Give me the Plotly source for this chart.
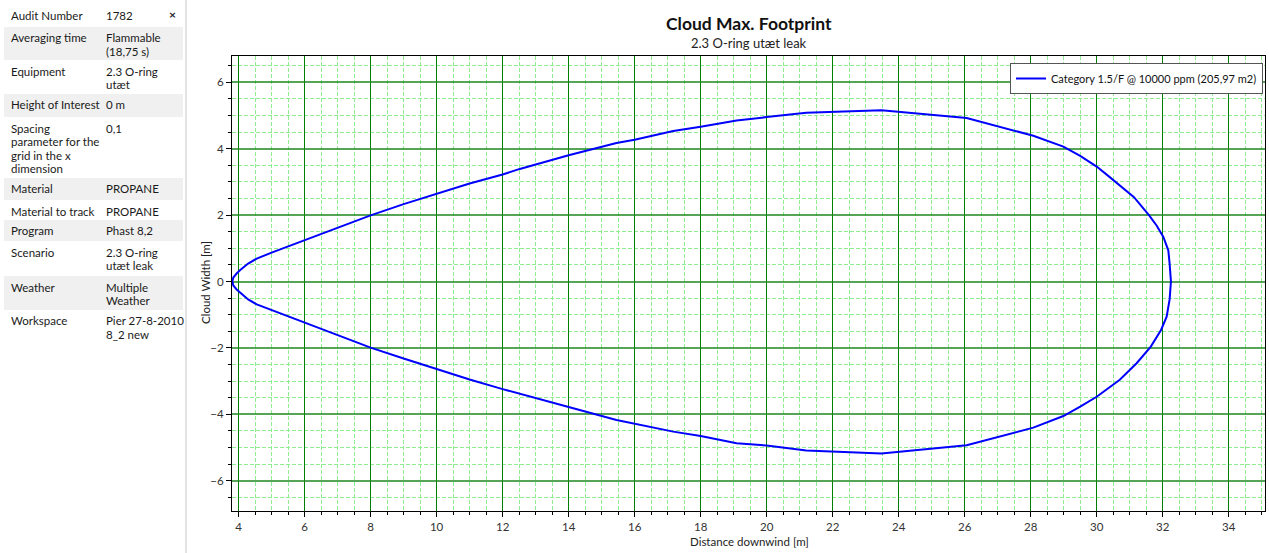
import plotly.graph_objects as go

# ---------------- data ----------------
x_upper = [3.81, 3.84, 3.94, 4.04, 4.29, 4.55, 5.00, 6.00, 7.00, 8.00, 9.00, 10.00, 11.00,
           12.00, 12.52, 14.00, 15.45, 16.00, 17.17, 18.00, 19.09, 20.00, 21.20,
           23.48, 26.06, 28.08, 28.99, 29.50, 30.00, 30.35, 30.70, 31.13, 31.59, 31.82,
           32.02, 32.17, 32.21, 32.25]
y_upper = [0.00, 0.12, 0.24, 0.34, 0.54, 0.69, 0.87, 1.25, 1.62, 1.99, 2.33, 2.65, 2.95,
           3.22, 3.39, 3.80, 4.17, 4.27, 4.53, 4.66, 4.85, 4.95, 5.08,
           5.16, 4.92, 4.39, 4.06, 3.78, 3.46, 3.18, 2.90, 2.54, 1.99, 1.68,
           1.34, 0.94, 0.54, 0.00]
x_lower = [32.21, 32.12, 31.95, 31.64, 31.21, 30.70, 30.00, 29.50, 28.99, 28.08, 26.06,
           23.48, 21.20, 20.00, 19.09, 18.00, 17.17, 16.00, 15.45, 14.00, 12.52, 12.00,
           11.00, 10.00, 9.00, 8.00, 7.00, 6.00, 5.00, 4.55, 4.29, 4.04, 3.94, 3.84, 3.81]
y_lower = [-0.54, -1.06, -1.46, -1.96, -2.46, -2.96, -3.47, -3.77, -4.05, -4.40, -4.93,
           -5.18, -5.09, -4.94, -4.87, -4.65, -4.52, -4.27, -4.17, -3.78, -3.39, -3.24,
           -2.95, -2.64, -2.32, -1.99, -1.62, -1.25, -0.88, -0.69, -0.54, -0.34, -0.24,
           -0.12, 0.00]
series_name = "Category 1.5/F @ 10000 ppm (205,97 m2)"

chart_title = "Cloud Max. Footprint"
chart_subtitle = "2.3 O-ring utæt leak"
x_title = "Distance downwind [m]"
y_title = "Cloud Width [m]"

prop_labels = ["Audit Number", "Averaging time", "Equipment", "Height of Interest",
               "Spacing\nparameter for the\ngrid in the x\ndimension",
               "Material", "Material to track", "Program", "Scenario", "Weather", "Workspace"]
prop_values = ["1782", "Flammable\n(18,75 s)", "2.3 O-ring\nutæt", "0 m", "0,1",
               "PROPANE", "PROPANE", "Phast 8,2", "2.3 O-ring\nutæt leak",
               "Multiple\nWeather", "Pier 27-8-2010\n8_2 new"]

# ---------------- layout helpers ----------------
W, H = 1269, 553
L, R, T, B = 232, 1265, 56, 511
FONT = "Lato, 'Noto Sans', sans-serif"


def px(xp):
    return (xp - L) / (R - L)


def py(yp):
    return (B - yp) / (B - T)


fig = go.Figure()
fig.add_trace(go.Scatter(
    x=x_upper + x_lower, y=y_upper + y_lower, mode="lines", name=series_name,
    line=dict(color="rgb(0,0,255)", width=2), showlegend=True))

shapes = []
annotations = []

# side panel
row_tops = [4, 27, 60, 94, 117, 178, 200, 220, 241, 276, 310, 345]
for i in range(len(prop_labels)):
    if i % 2 == 1:
        shapes.append(dict(type="rect", xref="paper", yref="paper",
                           x0=px(4), x1=px(183), y0=py(row_tops[i + 1]), y1=py(row_tops[i]),
                           fillcolor="#f0f0f0", line=dict(width=0), layer="below"))
    for k, line in enumerate(prop_labels[i].split("\n")):
        annotations.append(dict(xref="paper", yref="paper", x=px(9), y=py(row_tops[i] + 11 + 13.6 * k),
                                text=line, showarrow=False, xanchor="left", yanchor="middle",
                                font=dict(family=FONT, size=11.5, color="#1a1a1a")))
    for k, line in enumerate(prop_values[i].split("\n")):
        annotations.append(dict(xref="paper", yref="paper", x=px(104), y=py(row_tops[i] + 11 + 13.6 * k),
                                text=line, showarrow=False, xanchor="left", yanchor="middle",
                                font=dict(family=FONT, size=11.5, color="#1a1a1a")))
shapes.append(dict(type="line", xref="paper", yref="paper", x0=px(186), x1=px(186),
                   y0=py(0), y1=py(553), line=dict(color="#e3e3e3", width=2)))
annotations.append(dict(xref="paper", yref="paper", x=px(172), y=py(14), text="<b>×</b>",
                        showarrow=False, xanchor="center", yanchor="middle",
                        font=dict(family=FONT, size=12, color="#222")))

# titles
annotations.append(dict(xref="paper", yref="paper", x=px(749), y=py(23), text="<b>" + chart_title + "</b>",
                        showarrow=False, xanchor="center", yanchor="middle",
                        font=dict(family=FONT, size=17.5, color="#111")))
annotations.append(dict(xref="paper", yref="paper", x=px(749), y=py(43), text=chart_subtitle,
                        showarrow=False, xanchor="center", yanchor="middle",
                        font=dict(family=FONT, size=13, color="#222")))
annotations.append(dict(xref="paper", yref="paper", x=px(749), y=py(541), text=x_title,
                        showarrow=False, xanchor="center", yanchor="middle",
                        font=dict(family=FONT, size=11.5, color="#222")))
annotations.append(dict(xref="paper", yref="paper", x=px(205), y=py(283), text=y_title,
                        showarrow=False, xanchor="center", yanchor="middle", textangle=-90,
                        font=dict(family=FONT, size=11.5, color="#222")))


def axis_style(major_color, major_width):
    return dict(
        showline=True, linecolor="#000", linewidth=1, mirror=True,
        ticks="outside", ticklen=5, tickcolor="#000", tickwidth=1,
        showgrid=True, gridcolor=major_color, gridwidth=major_width,
        zeroline=False, dtick=2, tick0=0,
        tickfont=dict(family=FONT, size=11.5, color="#333"),
        minor=dict(dtick=0.5, tick0=0, ticks="outside", ticklen=3, tickcolor="#000",
                   showgrid=True, gridcolor="rgb(144,236,144)", griddash="4px,2px", gridwidth=1),
    )


fig.update_layout(
    width=W, height=H,
    margin=dict(l=L, r=W - R, t=T, b=H - B),
    paper_bgcolor="white", plot_bgcolor="white",
    font=dict(family=FONT, size=11, color="#222"),
    xaxis=dict(range=[3.8, 35.1], **axis_style("rgb(0,128,0)", 1)),
    yaxis=dict(range=[-6.91, 6.79], **axis_style("rgba(30,135,30,0.75)", 1.5)),
    legend=dict(x=px(1263), y=py(63), xanchor="right", yanchor="top",
                bgcolor="white", bordercolor="#555", borderwidth=1,
                font=dict(family=FONT, size=11, color="#111"), itemwidth=30),
    shapes=shapes, annotations=annotations,
    showlegend=True,
)

fig.write_html("out.html")
